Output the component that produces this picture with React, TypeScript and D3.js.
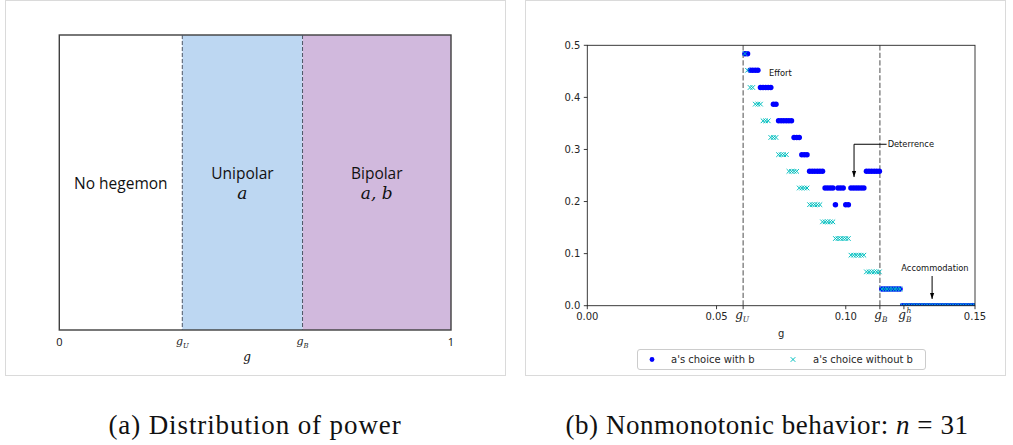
import React from "react";
import * as d3 from "d3";

// ---------- Left panel data ----------
const leftRegions = ["No hegemon", "Unipolar", "Bipolar"];
const leftRegionMath = ["", "a", "a, b"];
const leftBounds = [0, 0.314, 0.621, 1];
const leftRegionColors = ["#ffffff", "#bdd7f2", "#d1b9dd"];
const leftTickLabels = ["0", "gU", "gB", "1"];

// ---------- Right panel data ----------
const xTicks = [0, 0.05, 0.1, 0.15];
const yTicks = [0, 0.1, 0.2, 0.3, 0.4, 0.5];
const gU = 0.0603;
const gB = 0.1132;
const gBh = 0.1225;

// a's choice with b: [value, g values]
const withB: [number, number[]][] = [
  [0.484, [0.061, 0.062]],
  [0.452, [0.063, 0.064, 0.065, 0.066]],
  [0.419, [0.067, 0.068, 0.069, 0.07, 0.071]],
  [0.387, [0.072, 0.073]],
  [0.355, [0.074, 0.075, 0.076, 0.077, 0.078, 0.079]],
  [0.323, [0.08, 0.081, 0.082]],
  [0.29, [0.083, 0.084, 0.085]],
  [0.258, [0.086, 0.087, 0.088, 0.089, 0.09, 0.091, 0.108, 0.109, 0.11, 0.111, 0.112, 0.113]],
  [0.226, [0.092, 0.093, 0.094, 0.095, 0.097, 0.098, 0.099, 0.102, 0.103, 0.104, 0.105, 0.106, 0.107]],
  [0.194, [0.096, 0.1, 0.101]],
  [0.032, [0.114, 0.115, 0.116, 0.117, 0.118, 0.119, 0.12, 0.121]],
  [0.0, [0.122, 0.123, 0.124, 0.125, 0.126, 0.127, 0.128, 0.129, 0.13, 0.131, 0.132, 0.133, 0.134, 0.135, 0.136, 0.137, 0.138, 0.139, 0.14, 0.141, 0.142, 0.143, 0.144, 0.145, 0.146, 0.147, 0.148, 0.149, 0.15]],
];

// a's choice without b: [value, g values]
const withoutB: [number, number[]][] = [
  [0.484, [0.061]],
  [0.452, [0.062]],
  [0.419, [0.063, 0.064]],
  [0.387, [0.065, 0.066, 0.067]],
  [0.355, [0.068, 0.069, 0.07]],
  [0.323, [0.071, 0.072, 0.073]],
  [0.29, [0.074, 0.075, 0.076, 0.077]],
  [0.258, [0.078, 0.079, 0.08, 0.081]],
  [0.226, [0.082, 0.083, 0.084, 0.085]],
  [0.194, [0.086, 0.087, 0.088, 0.089, 0.09]],
  [0.161, [0.091, 0.092, 0.093, 0.094, 0.095]],
  [0.129, [0.096, 0.097, 0.098, 0.099, 0.1, 0.101]],
  [0.097, [0.102, 0.103, 0.104, 0.105, 0.106, 0.107]],
  [0.065, [0.108, 0.109, 0.11, 0.111, 0.112, 0.113]],
  [0.032, [0.114, 0.115, 0.116, 0.117, 0.118, 0.119, 0.12, 0.121]],
  [0.0, [0.122, 0.123, 0.124, 0.125, 0.126, 0.127, 0.128, 0.129, 0.13, 0.131, 0.132, 0.133, 0.134, 0.135, 0.136, 0.137, 0.138, 0.139, 0.14, 0.141, 0.142, 0.143, 0.144, 0.145, 0.146, 0.147, 0.148, 0.149, 0.15]],
];

const legendLabels = ["a's choice with b", "a's choice without b"];
const captions = ["(a) Distribution of power", "(b) Nonmonotonic behavior: "];

const BLUE = "#0000ff";
const CYAN = "#00bfbf";
const SANS = "DejaVu Sans";
const CAL = "Open Sans";
const SERIF = "Liberation Serif";
const MATH = "DejaVu Serif";

function flatten(series: [number, number[]][]) {
  const out: { g: number; v: number }[] = [];
  series.forEach(([v, gs]) => gs.forEach((g) => out.push({ g, v })));
  return out;
}

export default function App() {
  // left panel scale
  const xL = d3.scaleLinear().domain([0, 1]).range([59.3, 451]);
  const lTop = 35;
  const lBot = 330;

  // right panel scales
  const xR = d3.scaleLinear().domain([0, 0.15]).range([587.3, 975]);
  const yR = d3.scaleLinear().domain([0, 0.5]).range([305.7, 45.3]);
  const ptsB = flatten(withB);
  const ptsNB = flatten(withoutB);
  const xs = 2.3;
  const rDot = 2.75;

  const gLabel = (x: number, y: number, sub: string, sup?: string, size = 12) => (
    <text x={x} y={y} textAnchor="middle" fontFamily={MATH} fontStyle="italic" fontSize={size} fill="#222">
      g
      <tspan fontSize={size * 0.62} dy={sup ? 3 : 2.5}>{sub}</tspan>
      {sup ? (
        <tspan fontSize={size * 0.62} dx={-size * 0.42} dy={-9}>{sup}</tspan>
      ) : null}
    </text>
  );

  return (
    <svg width={1013} height={445} style={{ position: "absolute", left: 0, top: 0, background: "#fff" }}>
      {/* panel frames */}
      <rect x={5.5} y={0.5} width={500} height={375} fill="none" stroke="#dadada" />
      <rect x={525.5} y={0.5} width={480} height={375} fill="none" stroke="#dadada" />

      {/* ---------- Left panel ---------- */}
      {leftRegions.map((r, i) => (
        <rect
          key={"reg" + i}
          x={xL(leftBounds[i])}
          y={lTop}
          width={xL(leftBounds[i + 1]) - xL(leftBounds[i])}
          height={lBot - lTop}
          fill={leftRegionColors[i]}
        />
      ))}
      <rect x={xL(0)} y={lTop} width={xL(1) - xL(0)} height={lBot - lTop} fill="none" stroke="#3f3f3f" strokeWidth={1.4} />
      {[leftBounds[1], leftBounds[2]].map((b, i) => (
        <line key={"lb" + i} x1={xL(b)} x2={xL(b)} y1={lTop} y2={lBot} stroke="#4d5666" strokeWidth={1} strokeDasharray="4,2" />
      ))}
      <text x={(xL(leftBounds[0]) + xL(leftBounds[1])) / 2} y={189} textAnchor="middle" fontFamily={CAL} fontSize={15.5} fill="#111">
        {leftRegions[0]}
      </text>
      {[1, 2].map((i) => {
        const cx = (xL(leftBounds[i]) + xL(leftBounds[i + 1])) / 2;
        return (
          <g key={"rl" + i}>
            <text x={cx} y={179} textAnchor="middle" fontFamily={CAL} fontSize={15.5} fill="#111">
              {leftRegions[i]}
            </text>
            <text x={cx} y={199} textAnchor="middle" fontFamily={MATH} fontStyle="italic" fontSize={17} fill="#111">
              {leftRegionMath[i]}
            </text>
          </g>
        );
      })}
      <text x={xL(0)} y={346} textAnchor="middle" fontFamily={CAL} fontSize={11} fill="#111">{leftTickLabels[0]}</text>
      <text x={xL(1)} y={346} textAnchor="middle" fontFamily={CAL} fontSize={11} fill="#111">{leftTickLabels[3]}</text>
      {gLabel(xL(leftBounds[1]), 345, "U", undefined, 11)}
      {gLabel(xL(leftBounds[2]), 345, "B", undefined, 11)}
      <text x={247} y={361} textAnchor="middle" fontFamily={MATH} fontStyle="italic" fontSize={12} fill="#111">g</text>

      {/* ---------- Right panel ---------- */}
      <defs>
        <clipPath id="plotclip">
          <rect x={xR(0)} y={yR(0.5)} width={xR(0.15) - xR(0)} height={yR(0) - yR(0.5)} />
        </clipPath>
        <marker id="arrowhead" viewBox="0 0 10 10" refX={10} refY={5} markerWidth={6} markerHeight={6} orient="auto">
          <path d="M0,1.5 L10,5 L0,8.5 z" fill="#000" />
        </marker>
      </defs>

      {/* dashed g lines */}
      {[gU, gB].map((g, i) => (
        <line key={"gd" + i} x1={xR(g)} x2={xR(g)} y1={yR(0.5)} y2={yR(0)} stroke="#808080" strokeWidth={1.4} strokeDasharray="5.2,2.3" />
      ))}

      <g clipPath="url(#plotclip)">
        {ptsB.map((p, i) => (
          <circle key={"b" + i} cx={xR(p.g)} cy={yR(p.v)} r={rDot} fill={BLUE} />
        ))}
        {ptsNB.map((p, i) => (
          <path
            key={"nb" + i}
            d={`M${xR(p.g) - xs},${yR(p.v) - xs}L${xR(p.g) + xs},${yR(p.v) + xs}M${xR(p.g) - xs},${yR(p.v) + xs}L${xR(p.g) + xs},${yR(p.v) - xs}`}
            stroke={CYAN}
            strokeWidth={1}
            fill="none"
          />
        ))}
      </g>

      {/* spines */}
      <rect x={xR(0)} y={yR(0.5)} width={xR(0.15) - xR(0)} height={yR(0) - yR(0.5)} fill="none" stroke="#262626" strokeWidth={0.9} />

      {/* y ticks */}
      {yTicks.map((t) => (
        <g key={"yt" + t}>
          <line x1={xR(0) - 3.5} x2={xR(0)} y1={yR(t)} y2={yR(t)} stroke="#262626" strokeWidth={0.9} />
          <text x={xR(0) - 7} y={yR(t) + 3.6} textAnchor="end" fontFamily={SANS} fontSize={10} fill="#262626">
            {d3.format(".1f")(t)}
          </text>
        </g>
      ))}
      {/* x ticks */}
      {xTicks.map((t) => (
        <g key={"xt" + t}>
          <line x1={xR(t)} x2={xR(t)} y1={yR(0)} y2={yR(0) + 3.5} stroke="#262626" strokeWidth={0.9} />
          <text x={xR(t)} y={yR(0) + 14.3} textAnchor="middle" fontFamily={SANS} fontSize={10} fill="#262626">
            {d3.format(".2f")(t)}
          </text>
        </g>
      ))}
      {[gU, gB, gBh].map((t, i) => (
        <line key={"xs" + i} x1={xR(t)} x2={xR(t)} y1={yR(0)} y2={yR(0) + 3.5} stroke="#262626" strokeWidth={0.9} />
      ))}
      {gLabel(xR(gU) - 1, yR(0) + 13.5, "U")}
      {gLabel(xR(gB) + 1, yR(0) + 13.5, "B")}
      {gLabel(xR(gBh) + 1, yR(0) + 13.5, "B", "h")}
      <text x={(xR(0) + xR(0.15)) / 2} y={337} textAnchor="middle" fontFamily={SANS} fontSize={10} fill="#262626">g</text>

      {/* annotations */}
      <text x={xR(0.0703)} y={yR(0.447) + 3} fontFamily={SANS} fontSize={8.3} fill="#111">Effort</text>
      <text x={xR(0.1162)} y={yR(0.31) + 3} fontFamily={SANS} fontSize={8.3} fill="#111">Deterrence</text>
      <path
        d={`M${xR(0.1158)},${yR(0.31)}H${xR(0.1032)}V${yR(0.247)}`}
        fill="none"
        stroke="#000"
        strokeWidth={1}
        markerEnd="url(#arrowhead)"
      />
      <text x={xR(0.1345)} y={yR(0.0718) + 3} textAnchor="middle" fontFamily={SANS} fontSize={8.3} fill="#111">Accommodation</text>
      <line x1={xR(0.1334)} x2={xR(0.1334)} y1={yR(0.057)} y2={yR(0.013)} stroke="#000" strokeWidth={1} markerEnd="url(#arrowhead)" />

      {/* legend */}
      <rect x={637.5} y={349.5} width={288} height={20} rx={2.5} fill="#fff" stroke="#cccccc" strokeWidth={1} />
      <circle cx={652} cy={359.5} r={2.4} fill={BLUE} />
      <text x={671} y={363} fontFamily={SANS} fontSize={10} fill="#262626">{legendLabels[0]}</text>
      <path d={`M${793 - xs},${359.5 - xs}L${793 + xs},${359.5 + xs}M${793 - xs},${359.5 + xs}L${793 + xs},${359.5 - xs}`} stroke={CYAN} strokeWidth={1} />
      <text x={813} y={363} fontFamily={SANS} fontSize={10} fill="#262626">{legendLabels[1]}</text>

      {/* captions */}
      <text x={255} y={434} textAnchor="middle" fontFamily={SERIF} fontSize={27} letterSpacing={0.9} fill="#111">
        {captions[0]}
      </text>
      <text x={767} y={434} textAnchor="middle" fontFamily={SERIF} fontSize={27} letterSpacing={0.55} fill="#111">
        {captions[1]}
        <tspan fontStyle="italic">n</tspan>
        {" = 31"}
      </text>
    </svg>
  );
}
